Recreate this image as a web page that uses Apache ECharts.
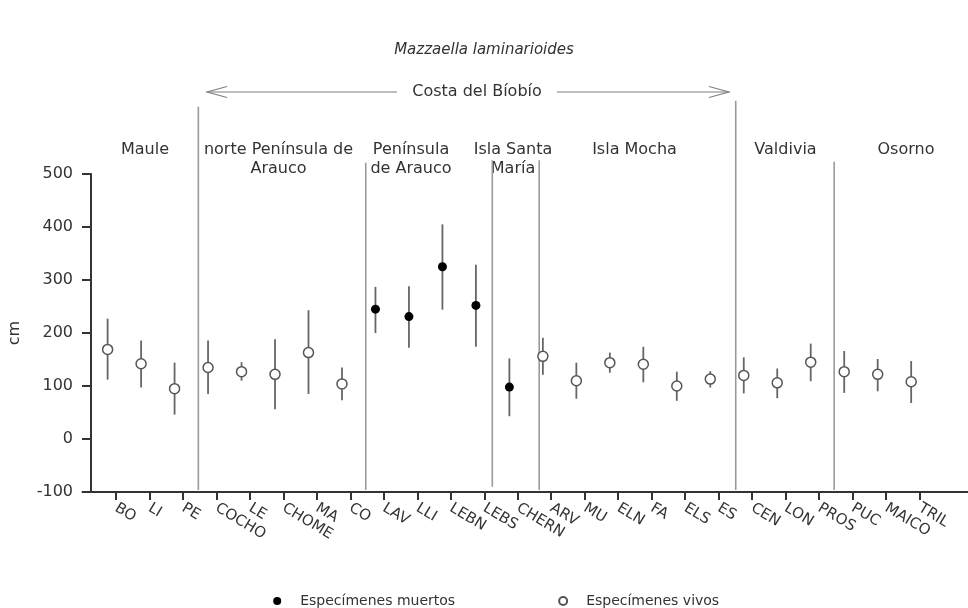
<!DOCTYPE html>
<html>
<head>
<meta charset="utf-8">
<script src="https://cdn.jsdelivr.net/npm/echarts@6/dist/echarts.min.js"></script>
<style>html,body{margin:0;padding:0;background:#fff}#c{width:968px;height:608px}</style>
</head>
<body>
<div id="c"></div>
<script>
// ---- data ----
const categories = ['BO','LI','PE','COCHO','LE','CHOME','MA','CO','LAV','LLI','LEBN','LEBS','CHERN','ARV','MU','ELN','FA','ELS','ES','CEN','LON','PROS','PUC','MAICO','TRIL'];
const meanValues  = [169,142, 95,135,127,122,163,104,245,231,325,252, 98,156,110,144,141,100,113,120,106,145,127,122,108];
const upperValues = [227,186,144,186,145,188,243,135,287,288,405,329,152,191,144,163,174,127,128,154,133,180,166,151,147];
const lowerValues = [112, 97, 46, 85,110, 56, 85, 73,200,172,244,174, 43,121, 76,125,107, 72, 97, 86, 77,109, 87, 90, 68];
const specimenStatus = ['vivo','vivo','vivo','vivo','vivo','vivo','vivo','vivo','muerto','muerto','muerto','muerto','muerto','vivo','vivo','vivo','vivo','vivo','vivo','vivo','vivo','vivo','vivo','vivo','vivo'];
const seriesNames = ['Especímenes muertos', 'Especímenes vivos'];
const yMin = -100, yMax = 500, yStep = 100;
const separatorX   = [2.71, 7.71, 11.49, 12.89, 18.76, 21.70];
const separatorTop = [627, 521, 526, 526, 638, 523];
const separatorBottom = [-96, -96, -90, -96, -96, -96];
const regionLabels = ['Maule', 'norte Península de\nArauco', 'Península\nde Arauco', 'Isla Santa\nMaría', 'Isla Mocha', 'Valdivia', 'Osorno'];
const regionLabelX = [145, 278.5, 411, 513, 634.5, 785.5, 906];
const costaLabel = 'Costa del Bíobío';
const titleText = 'Mazzaella laminarioides';
const yName = 'cm';

// ---- chart ----
const FONT = 'DejaVu Sans';
const TXT = '#333';
const chart = echarts.init(document.getElementById('c'), null, {renderer: 'canvas'});

const tickCats = [''].concat(categories, ['', '']);
const deadData = [], aliveData = [];
categories.forEach((c, i) => {
  (specimenStatus[i] === 'muerto' ? deadData : aliveData).push([i, meanValues[i]]);
});
const errData = categories.map((c, i) => [i, lowerValues[i], upperValues[i]]);
const sepData = separatorX.map((x, i) => [x, separatorTop[i], separatorBottom[i]]);

const graphics = [];
regionLabels.forEach((t, i) => {
  graphics.push({type: 'text', x: regionLabelX[i], y: 140.5, style: {
    text: t, textAlign: 'center', textVerticalAlign: 'top', fill: TXT,
    font: '16px "' + FONT + '"', lineHeight: 19, align: 'center'
  }});
});
graphics.push({type: 'text', x: 477, y: 92, style: {text: costaLabel, textAlign: 'center', textVerticalAlign: 'middle', fill: TXT, font: '16px "' + FONT + '"'}});
const arrowStyle = {stroke: '#808080', lineWidth: 1.2, fill: null};
graphics.push({type: 'polyline', shape: {points: [[397, 92], [207, 92]]}, style: arrowStyle});
graphics.push({type: 'polyline', shape: {points: [[227, 86.5], [207, 92], [227, 97.5]]}, style: arrowStyle});
graphics.push({type: 'polyline', shape: {points: [[557, 92], [729, 92]]}, style: arrowStyle});
graphics.push({type: 'polyline', shape: {points: [[709, 86.5], [729, 92], [709, 97.5]]}, style: arrowStyle});

const option = {
  animation: false,
  backgroundColor: '#fff',
  textStyle: {fontFamily: FONT},
  title: {text: titleText, left: 'center', top: 38, textStyle: {fontFamily: FONT, fontSize: 15, fontStyle: 'italic', fontWeight: 'normal', color: TXT}},
  grid: {left: 82.5, right: -18.5, top: 174, bottom: 116, containLabel: false, outerBoundsMode: 'none'},
  legend: {
    data: seriesNames, top: 589, left: 268.2, itemWidth: 36, itemHeight: 8, itemGap: 103,
    textStyle: {fontFamily: FONT, fontSize: 14, color: TXT}, selectedMode: false
  },
  xAxis: [{
    type: 'category', data: tickCats, boundaryGap: false,
    axisLine: {onZero: false, lineStyle: {color: '#333', width: 2}},
    axisTick: {length: 8, lineStyle: {color: '#333', width: 2}, interval: (idx) => idx >= 1 && idx <= categories.length},
    axisLabel: {interval: 0, rotate: -31, margin: 15, fontFamily: FONT, fontSize: 15, color: TXT},
    splitLine: {show: false}
  }, {
    type: 'value', min: -0.75, max: 26.25, show: false, splitLine: {show: false},
    axisLine: {onZero: false}
  }],
  yAxis: {
    type: 'value', min: yMin, max: yMax, interval: yStep, offset: -8.5,
    name: yName, nameLocation: 'middle', nameGap: 68, nameRotate: 90,
    nameTextStyle: {fontFamily: FONT, fontSize: 16, color: TXT},
    axisLine: {show: true, onZero: false, lineStyle: {color: '#333', width: 2}},
    axisTick: {show: true, length: 9, lineStyle: {color: '#333', width: 2}},
    axisLabel: {margin: 18, fontFamily: FONT, fontSize: 16, color: TXT},
    splitLine: {show: false}
  },
  graphic: graphics,
  series: [
    {
      type: 'custom', name: 'separadores', xAxisIndex: 1, silent: true, z: 1, clip: false,
      data: sepData, encode: {x: 0, y: [1, 2]},
      renderItem: (params, api) => {
        const a = api.coord([api.value(0), api.value(1)]);
        const b = api.coord([api.value(0), api.value(2)]);
        return {type: 'line', shape: {x1: a[0], y1: a[1], x2: b[0], y2: b[1]}, style: {stroke: '#9a9a9a', lineWidth: 1.6}};
      }
    },
    {
      type: 'custom', name: 'rango', xAxisIndex: 1, silent: true, z: 2,
      data: errData, encode: {x: 0, y: [1, 2]},
      renderItem: (params, api) => {
        const a = api.coord([api.value(0), api.value(1)]);
        const b = api.coord([api.value(0), api.value(2)]);
        return {type: 'line', shape: {x1: a[0], y1: a[1], x2: b[0], y2: b[1]}, style: {stroke: '#666', lineWidth: 1.8}};
      }
    },
    {
      type: 'scatter', name: seriesNames[0], xAxisIndex: 1, z: 3, symbol: 'circle', symbolSize: 9,
      itemStyle: {color: '#000', opacity: 1}, data: deadData
    },
    {
      type: 'scatter', name: seriesNames[1], xAxisIndex: 1, z: 3, symbol: 'circle', symbolSize: 10,
      itemStyle: {color: '#fff', borderColor: '#555', borderWidth: 1.5, opacity: 1}, data: aliveData
    }
  ]
};
chart.setOption(option);
</script>
</body>
</html>
